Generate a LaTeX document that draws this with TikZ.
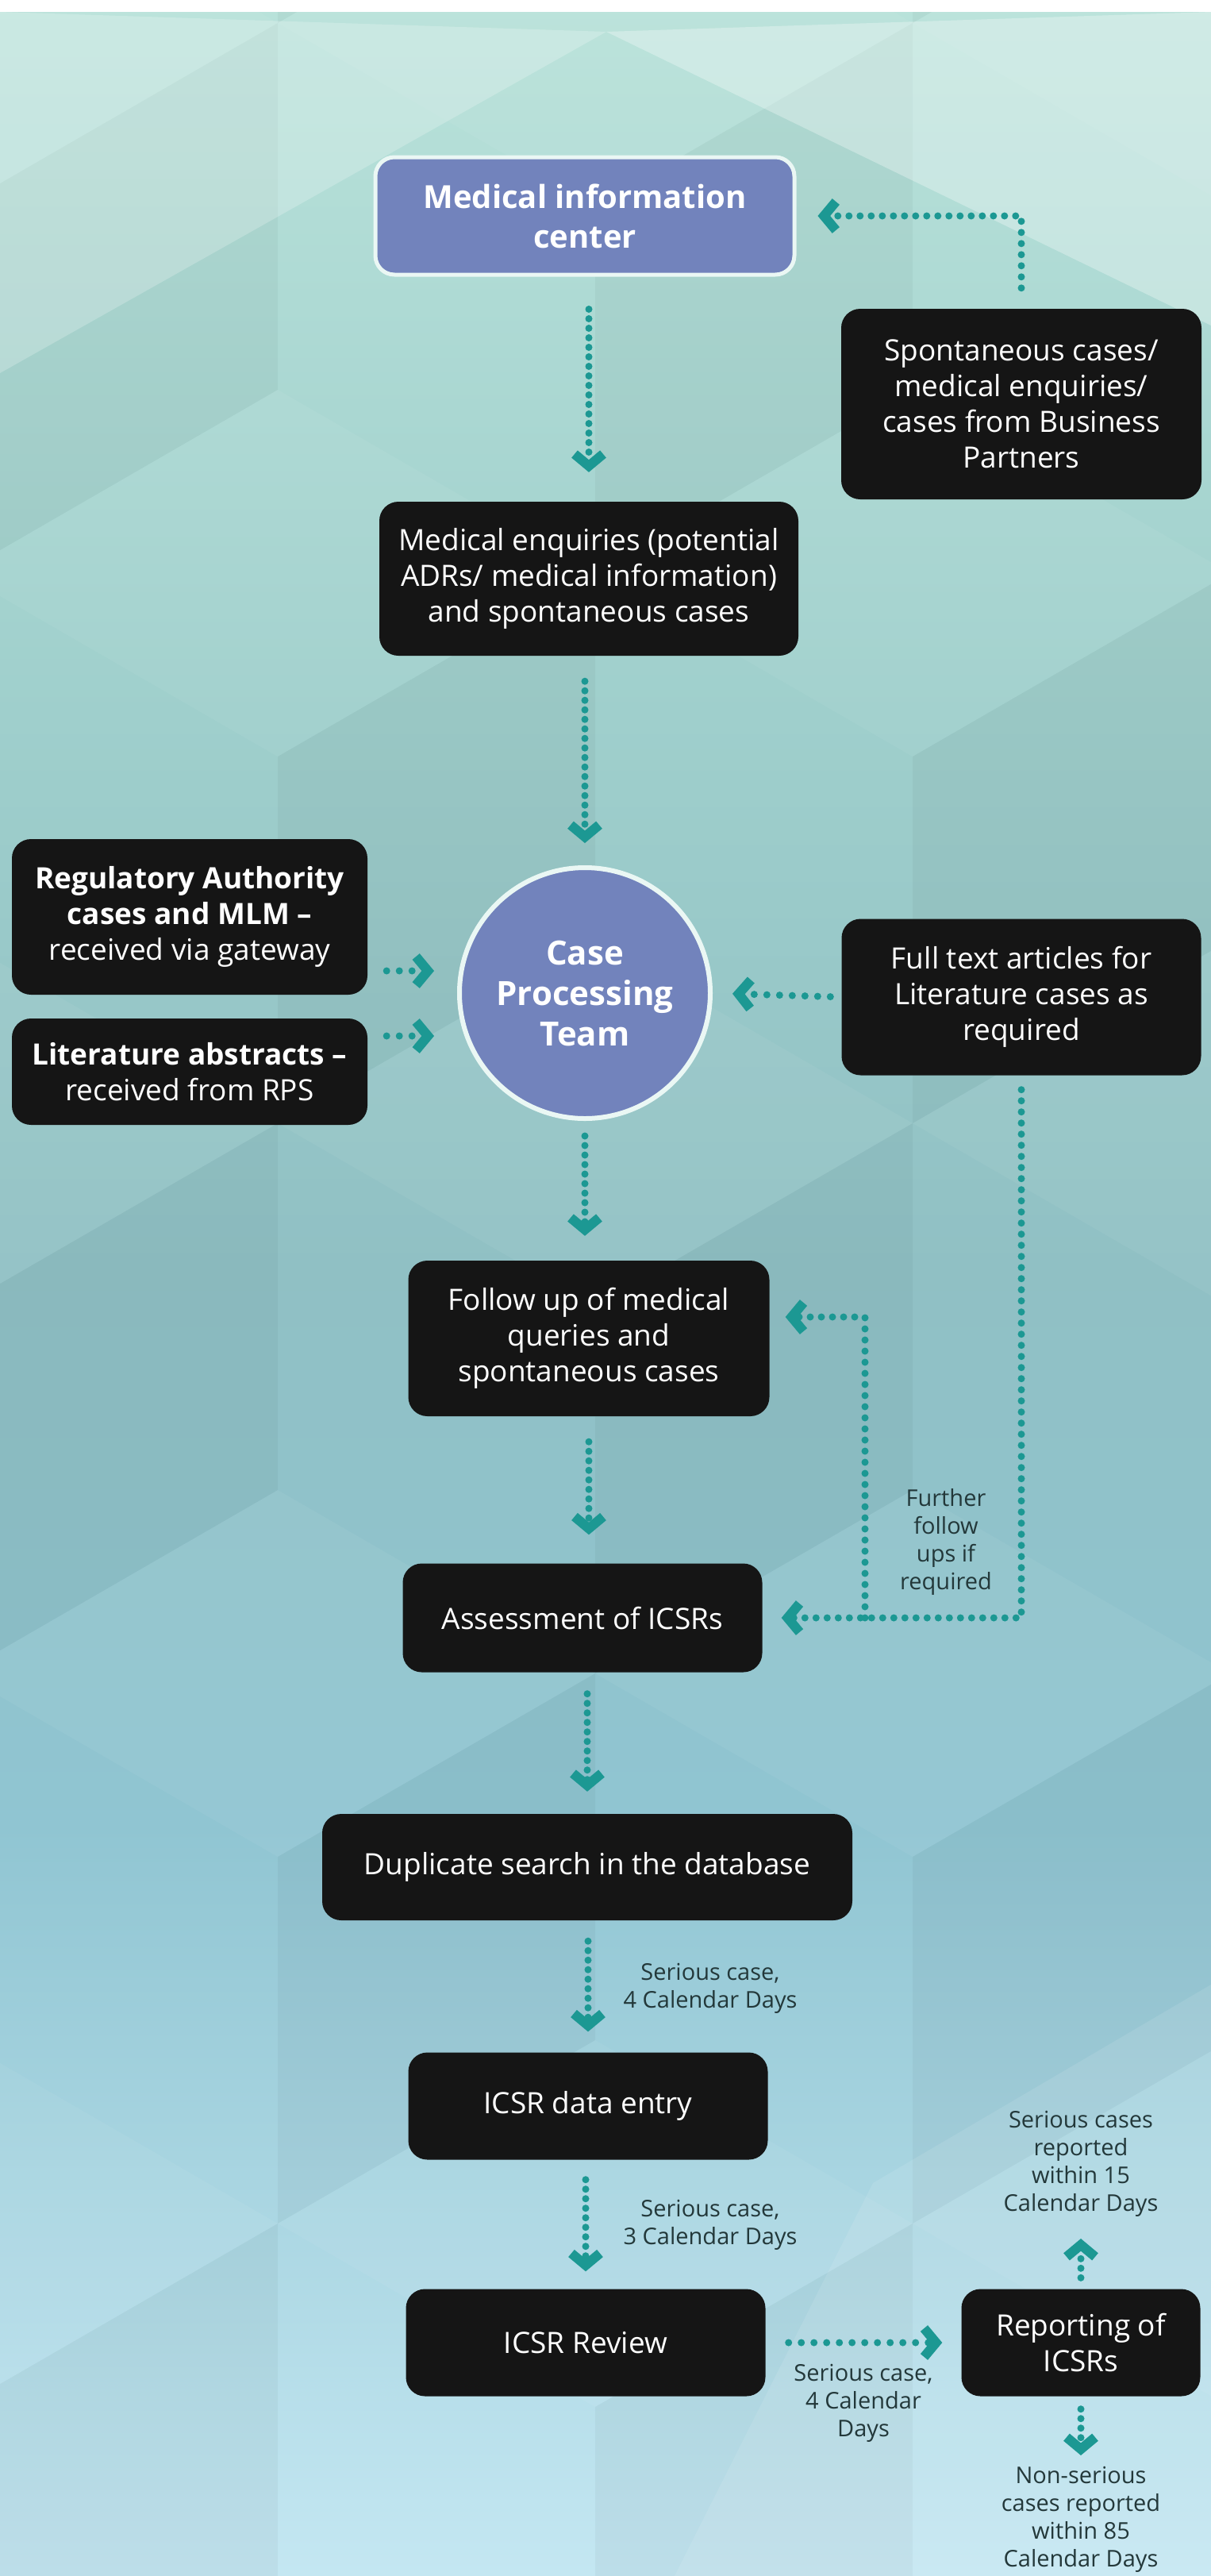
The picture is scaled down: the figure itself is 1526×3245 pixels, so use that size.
\documentclass[tikz,border=0pt]{standalone}
\usepackage{fontspec}
\setmainfont{Open Sans}
\usetikzlibrary{arrows.meta,calc}
\definecolor{tealarrow}{HTML}{1C9893}
\definecolor{boxblack}{HTML}{151515}
\definecolor{slate}{HTML}{7283BC}
\definecolor{slateborder}{HTML}{EAF7F4}
\definecolor{labelc}{HTML}{23383A}
\definecolor{bgA}{HTML}{B9E2DA}
\definecolor{bgB}{HTML}{9FCFCC}
\definecolor{bgC}{HTML}{90C0C4}
\definecolor{bgD}{HTML}{90C5D2}
\definecolor{bgE}{HTML}{C4E7F2}
\tikzset{
  blackbox/.style={fill=boxblack, rounded corners=24pt, text=white, align=center,
    font=\fontsize{37}{45}\selectfont, inner sep=0pt},
  bluebox/.style={fill=slate, draw=slateborder, line width=5pt, rounded corners=24pt,
    text=white, align=center, font=\bfseries\fontsize{40}{50}\selectfont, inner sep=0pt},
  flow/.style={draw=tealarrow, line width=9pt, line cap=round, dash pattern=on 0pt off 12pt,
    -{Straight Barb[length=15pt,width=36pt,line width=12pt,line cap=butt,line join=miter]}},
  hflow/.style={flow, dash pattern=on 0pt off 16pt},
  lflow/.style={flow, dash pattern=on 0pt off 14pt},
  lbl/.style={text=labelc, align=center, font=\fontsize{29}{35}\selectfont, inner sep=0pt},
}
\begin{document}
\begin{tikzpicture}[x=1pt,y=-1pt]
\useasboundingbox (0,0) rectangle (1526,3245);
% background gradient
\fill[top color=bgA, bottom color=bgB] (0,0) rectangle (1526,901);
\fill[top color=bgB, bottom color=bgC] (0,900) rectangle (1526,1601);
\fill[top color=bgC, bottom color=bgD] (0,1600) rectangle (1526,2301);
\fill[top color=bgD, bottom color=bgE] (0,2300) rectangle (1526,3245);
% isometric cube facets
\begin{scope}
\clip (0,0) rectangle (1526,3245);
\foreach \j in {-1,...,5} {
  \foreach \i in {-2,...,4} {
    \pgfmathsetmacro{\cx}{-50 + 800*\i + 400*mod(\j+10,2)}
    \pgfmathsetmacro{\cy}{260 + 693*\j}
    \fill[white, opacity=0.05] (\cx,\cy) -- (\cx-400,\cy-231) -- (\cx,\cy-462) -- (\cx+400,\cy-231) -- cycle;
    \fill[black, opacity=0.035] (\cx,\cy) -- (\cx+400,\cy-231) -- (\cx+400,\cy+231) -- (\cx,\cy+462) -- cycle;
  }
}
\end{scope}
\fill[white, opacity=0.22] (0,15) -- (764,40) -- (0,470) -- cycle;
\fill[white, opacity=0.30] (764,40) -- (1526,15) -- (1526,410) -- cycle;
\fill[white, opacity=0.10] (1100,2750) -- (1526,2500) -- (1526,3245) -- (850,3245) -- cycle;
\fill[white] (0,0) rectangle (1526,15);

% nodes
\node[bluebox, minimum width=528pt, minimum height=148pt] (mic) at (737,272) {Medical information\\center};
\node[blackbox, minimum width=454pt, minimum height=240pt] (spont) at (1287,509)
  {Spontaneous cases/\\medical enquiries/\\cases from Business\\Partners};
\node[blackbox, minimum width=528pt, minimum height=194pt] (me) at (742,729)
  {Medical enquiries (potential\\ADRs/ medical information)\\and spontaneous cases};
\node[circle, fill=slate, draw=slateborder, line width=6pt, minimum size=316pt, inner sep=0pt,
  text=white, align=center, font=\bfseries\fontsize{42}{51}\selectfont] (cpt) at (737,1251)
  {Case\\Processing\\Team};
\node[blackbox, minimum width=448pt, minimum height=196pt] (reg) at (239,1155)
  {\textbf{Regulatory Authority}\\\textbf{cases and MLM –}\\received via gateway};
\node[blackbox, minimum width=448pt, minimum height=134pt] (lit) at (239,1350)
  {\textbf{Literature abstracts –}\\received from RPS};
\node[blackbox, minimum width=453pt, minimum height=197pt] (full) at (1287,1256)
  {Full text articles for\\Literature cases as\\required};
\node[blackbox, minimum width=455pt, minimum height=196pt] (fu) at (742,1686)
  {Follow up of medical\\queries and\\spontaneous cases};
\node[blackbox, minimum width=453pt, minimum height=137pt] (ass) at (734,2038)
  {Assessment of ICSRs};
\node[blackbox, minimum width=668pt, minimum height=134pt] (dup) at (740,2352)
  {Duplicate search in the database};
\node[blackbox, minimum width=453pt, minimum height=135pt] (de) at (741,2653)
  {ICSR data entry};
\node[blackbox, minimum width=453pt, minimum height=135pt] (rev) at (738,2951)
  {ICSR Review};
\node[blackbox, minimum width=301pt, minimum height=135pt] (rep) at (1362,2951)
  {Reporting of\\ICSRs};

% labels
\node[lbl] (further) at (1192,1942) {Further\\follow\\ups if\\required};
\node[lbl] (l1) at (895,2505) {Serious case,\\4 Calendar Days};
\node[lbl] (l2) at (895,2803) {Serious case,\\3 Calendar Days};
\node[lbl] (l3) at (1088,3027) {Serious case,\\4 Calendar\\Days};
\node[lbl] (l4) at (1362,2726) {Serious cases\\reported\\within 15\\Calendar Days};
\node[lbl] (l5) at (1362,3174) {Non-serious\\cases reported\\within 85\\Calendar Days};

% helper coordinates
\coordinate (ay) at (0,1223);
\coordinate (ly) at (0,1305);
\coordinate (fbx) at (1090,0);
\coordinate (upend) at (1362,2820);
\coordinate (downend) at (1362,3093);

% connectors
\draw[lflow, shorten <=26pt, shorten >=27pt] (spont.north) |- (mic.east);
\draw[flow, shorten <=41pt, shorten >=37pt] (mic.south -| me.north) -- (me.north);
\draw[flow, shorten <=32pt, shorten >=28pt] (me.south -| cpt.north) -- (cpt.north);
\draw[hflow, shorten <=24pt, shorten >=29pt] (reg.east |- ay) -- (cpt.west |- ay);
\draw[hflow, shorten <=24pt, shorten >=29pt] (lit.east |- ly) -- (cpt.west |- ly);
\draw[hflow, shorten <=14pt, shorten >=25pt] (full.west) -- (cpt.east);
\draw[flow, shorten <=19pt, shorten >=31pt] (cpt.south) -- (cpt.south |- fu.north);
\draw[flow, shorten <=32pt, shorten >=36pt] (fu.south) -- (fu.south |- ass.north);
\draw[lflow, shorten <=18pt, shorten >=24pt] (full.south) |- (ass.east);
\draw[lflow, shorten >=20pt] (ass.east -| fbx) |- ([yshift=27pt]fu.east);
\draw[flow, shorten <=27pt, shorten >=28pt] (ass.south -| dup.north) -- (dup.north);
\draw[flow, shorten <=26pt, shorten >=26pt] (dup.south -| de.north) -- (de.north);
\draw[flow, shorten <=25pt, shorten >=22pt] (de.south -| rev.north) -- (rev.north);
\draw[hflow, shorten <=29pt, shorten >=24pt] (rev.east) -- (rep.west);
\draw[flow, shorten <=14pt] (rep.north) -- (upend);
\draw[flow, shorten <=16pt] (rep.south) -- (downend);
\end{tikzpicture}
\end{document}
